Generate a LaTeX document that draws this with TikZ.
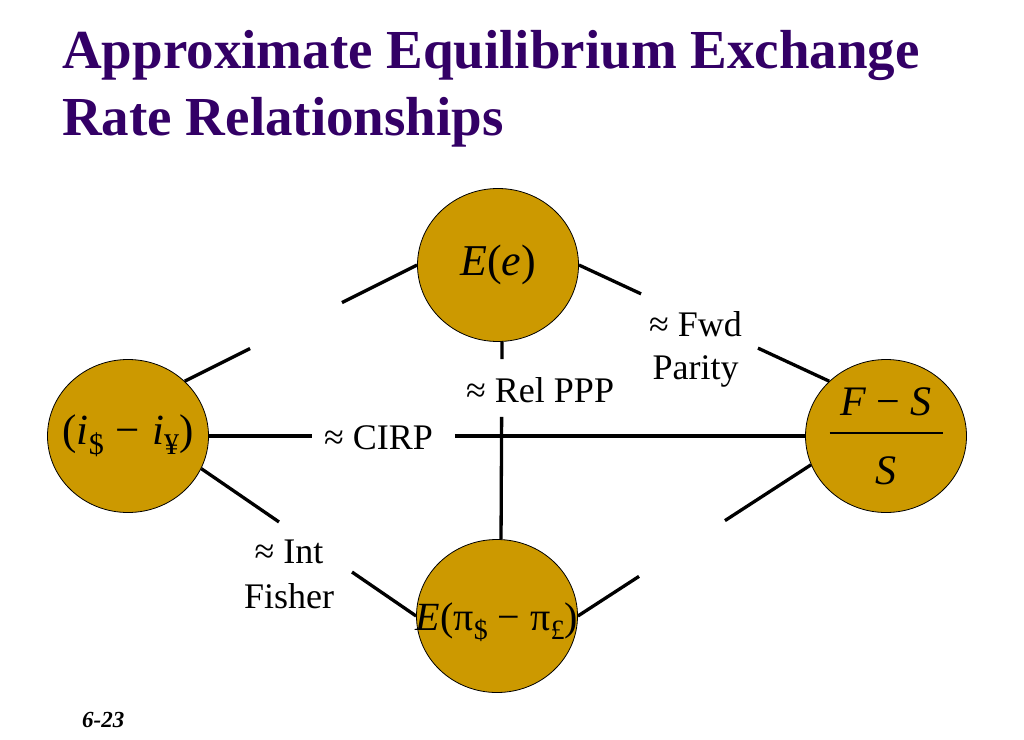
\documentclass[tikz,border=0pt]{standalone}
\usepackage{fontspec}
\setmainfont{Liberation Serif}
\usepackage{graphicx}
\usepackage{tikz}
\usetikzlibrary{shapes.geometric}
\definecolor{ratefill}{RGB}{204,153,0}
\definecolor{titlepurple}{RGB}{51,0,102}
\tikzstyle{rate}=[ellipse,draw=black,line width=0.8pt,fill=ratefill,minimum
                width=161pt,minimum height=153pt,inner sep=0pt,text=black]
\tikzstyle{elabel}=[inner sep=0pt,align=center,text=black,
                font=\fontsize{36}{44}\selectfont]
\tikzstyle{link}=[draw=black,line width=3.3pt]
\newcommand{\lowsub}[1]{\raisebox{-0.24em}{\scalebox{0.7}{#1}}}

\begin{document}
\begin{tikzpicture}[x=1pt,y=-1pt]
  \path[use as bounding box] (0,0) rectangle (1024,739);
  \node[anchor=north west,inner sep=0pt,align=left,text=titlepurple,
    font=\fontsize{55}{67}\selectfont\bfseries] (title) at (62,30)
    {Approximate Equilibrium Exchange\\Rate Relationships};
  \node[rate,font=\fontsize{44}{50}\selectfont] (ee) at (498,265)
    {\textit{E}(\textit{e})};
  \node[rate,font=\fontsize{43}{50}\selectfont] (ir) at (128,436)
    {\makebox[0pt]{(\textit{i}\lowsub{\$}\;−\;\textit{i}\lowsub{¥})}};
  \node[rate,font=\fontsize{42}{50}\selectfont,align=center] (fs) at (886,436)
    {\textit{F} − \textit{S}\\[-31pt]\rule{113pt}{2pt}\\\textit{S}};
  \node[rate,font=\fontsize{40}{48}\selectfont,text height=40pt,
    text depth=12pt] (infl) at (497,616)
    {\makebox[0pt]{\textit{E}(π\lowsub{\$} − π\lowsub{£})}};
  \path[link]
    (ir.east) edge[shorten >=493pt] (fs.west)
    (ir.east) edge[shorten <=246pt] (fs.west)
    (ee.-87) edge[shorten >=180pt] (infl.87)
    (ee.-87) edge[shorten <=75pt] (infl.87)
    (ir.44) edge[shorten >=186.8pt] (ee.west)
    (ir.44) edge[shorten <=175.8pt] (ee.west)
    (ee.east) edge[shorten >=207.5pt] (fs.136)
    (ee.east) edge[shorten <=197.4pt] (fs.136)
    (ir.-24) edge[shorten >=166.3pt] (infl.west)
    (ir.-24) edge[shorten <=182.8pt] (infl.west)
    (infl.east) edge[shorten >=205pt] (fs.-159)
    (infl.east) edge[shorten <=175.3pt] (fs.-159);
  \node[elabel,anchor=base west] (cirp) at (324,449) {≈ CIRP};
  \node[elabel,anchor=base west] (rppp) at (466,402) {≈ Rel PPP};
  \node[elabel,font=\fontsize{36}{43}\selectfont] (fwd) at (695.5,349)
    {≈ Fwd\\Parity};
  \node[elabel,font=\fontsize{36}{45}\selectfont] (fisher) at (289,574)
    {≈ Int\\Fisher};
  \node[anchor=base west,inner sep=0pt,
    font=\fontsize{23}{26}\selectfont\bfseries\itshape] (page) at (82,727)
    {6-23};
\end{tikzpicture}
\end{document}
